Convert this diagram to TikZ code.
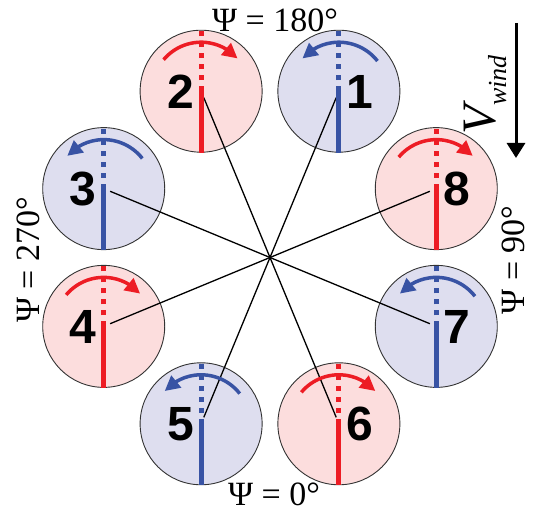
\documentclass[tikz,border=0pt]{standalone}
\usepackage{fontspec}
\setmainfont{Liberation Serif}
\newfontfamily\numfont{Liberation Sans}
\usetikzlibrary{arrows.meta,bending}
\definecolor{redL}{HTML}{ED1C24}
\definecolor{redF}{HTML}{FCDDDD}
\definecolor{bluL}{HTML}{3853A4}
\definecolor{bluF}{HTML}{DEDEEF}
\definecolor{edgeC}{HTML}{333333}
\tikzset{
  disc/.style={circle, draw=edgeC, line width=0.9pt, minimum size=122pt, inner sep=0pt},
  numlabel/.style={font=\numfont\bfseries\fontsize{48}{48}\selectfont, inner sep=0pt},
  psilabel/.style={font=\fontsize{34}{40}\selectfont, inner sep=0pt},
  spoke/.style={line width=1.3pt, black, shorten <=7pt, shorten >=7pt},
  bladesolid/.style={line width=5pt},
  bladedash/.style={line width=5pt, dash pattern=on 5pt off 6pt, dash phase=5pt},
  turn/.style={line width=3.5pt, -{Triangle[length=15pt,width=15pt]}},
  windarrow/.style={line width=3pt, -{Triangle[length=15pt,width=18pt]}}
}
\begin{document}
\begin{tikzpicture}[x=1pt,y=1pt]
\useasboundingbox (0,0) rectangle (536,512);
\coordinate (O) at (270,254.5);
% discs
\foreach \i/\a/\fc in {1/67.5/bluF,2/112.5/redF,3/157.5/bluF,4/202.5/redF,5/247.5/bluF,6/292.5/redF,7/337.5/bluF,8/22.5/redF}{
  \node[disc, fill=\fc] (c\i) at ([shift={(\a:180)}]O) {};
}
% spokes
\draw[spoke] (c1.center) -- (c5.center);
\draw[spoke] (c2.center) -- (c6.center);
\draw[spoke] (c3.center) -- (c7.center);
\draw[spoke] (c4.center) -- (c8.center);
% blades, rotation arrows, numbers
\foreach \i/\lc/\sa/\ea/\dx/\anc in {1/bluL/38/138/7/west,2/redL/140/42/-7/east,3/bluL/38/138/-7/east,4/redL/140/42/-7/east,5/bluL/38/138/-7/east,6/redL/140/42/7/west,7/bluL/38/138/7/west,8/redL/140/42/7/west}{
  \draw[bladesolid, \lc] (c\i.south) -- ([yshift=5pt]c\i.center);
  \draw[bladedash, \lc] ([yshift=5pt]c\i.center) -- (c\i.north);
  \draw[turn, \lc] ([shift={(\sa:49)}]c\i.center) arc[start angle=\sa, end angle=\ea, radius=49];
  \node[numlabel, anchor=base \anc] (n\i) at ([shift={(\dx,-17)}]c\i.center) {\i};
}
% azimuth labels
\node[psilabel, anchor=base] (t180) at (275,480) {Ψ = 180°};
\node[psilabel, anchor=base] (t0) at (274,7) {Ψ = 0°};
\node[psilabel, rotate=90] (t270) at (28,252) {Ψ = 270°};
\node[psilabel, rotate=90] (t90) at (513,252) {Ψ = 90°};
% wind
\node[rotate=90, inner sep=0pt] (vw) at (485,417) {\fontsize{48}{48}\selectfont\itshape V\raisebox{-11pt}{\fontsize{26}{26}\selectfont wind}};
\coordinate (wt) at (516,489);
\coordinate (wb) at (516,354);
\draw[windarrow] (wt) -- (wb);
\end{tikzpicture}
\end{document}
